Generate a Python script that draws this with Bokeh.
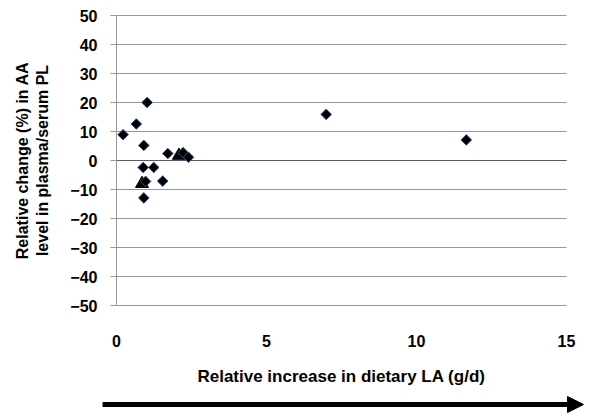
from bokeh.plotting import figure
from bokeh.models import Range1d, FixedTicker, Arrow, NormalHead, Grid
from bokeh.embed import file_html
from bokeh.resources import INLINE
import numpy as np

# Data
diamond_x = [0.22, 0.66, 1.02, 0.91, 1.71, 2.22, 2.40, 0.89, 1.24, 0.97, 1.54, 0.91, 6.99, 11.66]
diamond_y = [8.9, 12.6, 20.0, 5.2, 2.4, 2.7, 1.1, -2.4, -2.4, -7.2, -7.1, -12.9, 15.9, 7.1]
triangle_x = [2.08, 0.85]
triangle_y = [1.7, -8.0]
x_ticks = [0, 5, 10, 15]
y_ticks = [-50, -40, -30, -20, -10, 0, 10, 20, 30, 40, 50]

FONT = "Liberation Sans"
GRID = "#979797"

# Layout geometry (pixels): the plotting area of the chart, and an extended frame
W, H = 600, 419
AX_LEFT, AX_RIGHT, AX_TOP, AX_BOTTOM = 116, 566, 15, 305
FR_LEFT, FR_RIGHT, FR_TOP, FR_BOTTOM = 0, 596, 2, 417
XMIN, XMAX = x_ticks[0], x_ticks[-1]
YMIN, YMAX = y_ticks[0], y_ticks[-1]
sx = (AX_RIGHT - AX_LEFT) / (XMAX - XMIN)
sy = (AX_BOTTOM - AX_TOP) / (YMAX - YMIN)

def px_x(px):
    return XMIN + (px - AX_LEFT) / sx

def px_y(py):
    return YMAX - (py - AX_TOP) / sy

p = figure(width=W, height=H, output_backend="svg", toolbar_location=None,
           x_range=Range1d(px_x(FR_LEFT), px_x(FR_RIGHT)),
           y_range=Range1d(px_y(FR_BOTTOM), px_y(FR_TOP)),
           min_border_left=FR_LEFT, min_border_right=W - FR_RIGHT,
           min_border_top=FR_TOP, min_border_bottom=H - FR_BOTTOM)
p.outline_line_color = None
p.background_fill_color = "white"

# Grid (horizontal lines only, limited to the chart area)
p.xgrid.grid_line_color = None
p.ygrid.ticker = FixedTicker(ticks=y_ticks)
p.ygrid.bounds = (YMIN, YMAX)
if "cross_bounds" in Grid.properties():
    p.ygrid.cross_bounds = (XMIN, XMAX)
    p.ygrid.grid_line_color = GRID
else:
    p.ygrid.grid_line_color = None
    p.segment(x0=[XMIN] * len(y_ticks), y0=y_ticks, x1=[XMAX] * len(y_ticks), y1=y_ticks,
              line_color=GRID, line_width=1)

# Y axis
p.yaxis.fixed_location = XMIN
p.yaxis.bounds = (YMIN, YMAX)
p.yaxis.ticker = FixedTicker(ticks=y_ticks)
p.yaxis.axis_line_color = GRID
p.yaxis.major_tick_line_color = GRID
p.yaxis.major_tick_in = 0
p.yaxis.major_tick_out = 6
p.yaxis.minor_tick_line_color = None
p.yaxis.major_label_text_font = FONT
p.yaxis.major_label_text_font_style = "bold"
p.yaxis.major_label_text_font_size = "16px"
p.yaxis.major_label_text_color = "black"
p.yaxis.major_label_standoff = 13
p.yaxis.axis_label = "Relative change (%) in AA\nlevel in plasma/serum PL"
p.yaxis.axis_label_text_font = FONT
p.yaxis.axis_label_text_font_style = "bold"
p.yaxis.axis_label_text_font_size = "16px"
p.yaxis.axis_label_text_color = "black"
p.yaxis.axis_label_standoff = 16

# X axis (labels below the chart area; zero line drawn separately)
p.xaxis.fixed_location = YMIN
p.xaxis.bounds = (XMIN, XMAX)
p.xaxis.ticker = FixedTicker(ticks=x_ticks)
p.xaxis.axis_line_color = None
p.xaxis.major_tick_line_color = None
p.xaxis.minor_tick_line_color = None
p.xaxis.major_label_text_font = FONT
p.xaxis.major_label_text_font_style = "bold"
p.xaxis.major_label_text_font_size = "16px"
p.xaxis.major_label_text_color = "black"
p.xaxis.major_label_standoff = 23
p.xaxis.axis_label = "Relative increase in dietary LA (g/d)"
p.xaxis.axis_label_text_font = FONT
p.xaxis.axis_label_text_font_style = "bold"
p.xaxis.axis_label_text_font_size = "17px"
p.xaxis.axis_label_text_color = "black"
p.xaxis.axis_label_standoff = 17

# Horizontal axis line at zero
p.segment(x0=[XMIN], y0=[0], x1=[XMAX], y1=[0], line_color="#5a5a5a", line_width=1)

p.scatter(triangle_x, triangle_y, marker="triangle", size=13, fill_color="black", line_color="black")
p.scatter(diamond_x, diamond_y, marker="square", angle=np.pi / 4, size=7.5,
          fill_color="black", line_color="#2b4f8c", line_width=1)

# Decorative arrow under the axis title
p.add_layout(Arrow(end=NormalHead(size=16, fill_color="black", line_color="black"),
                   x_start=px_x(102), y_start=px_y(404), x_end=px_x(583), y_end=px_y(404),
                   line_color="black", line_width=5))

open("out.html", "w").write(file_html(p, INLINE))
